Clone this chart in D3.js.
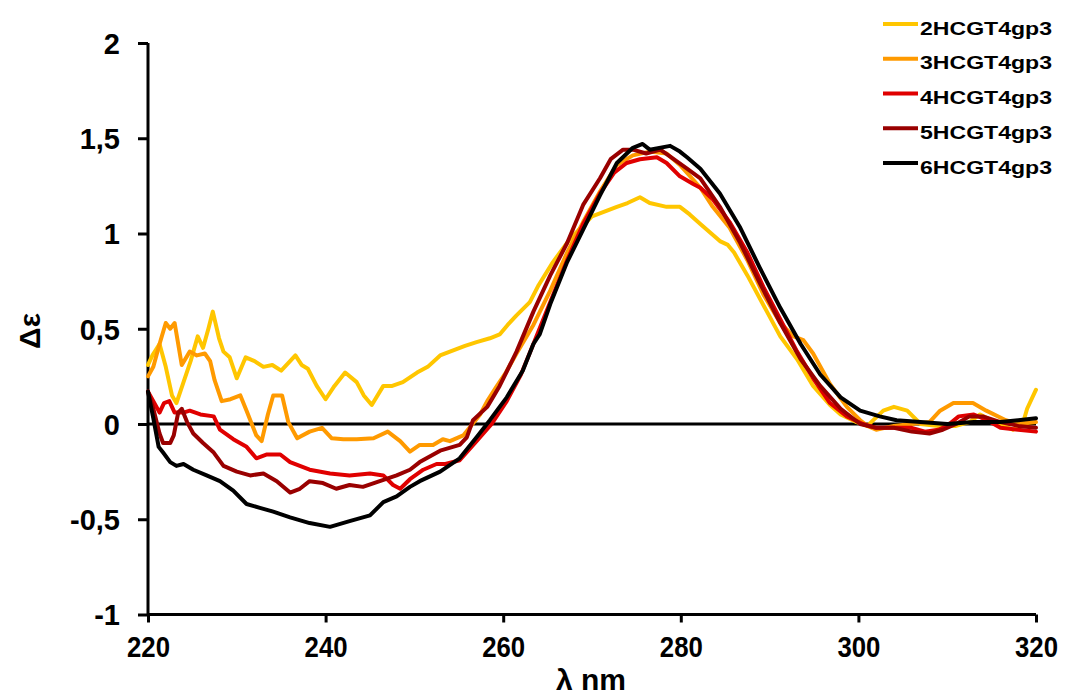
<!DOCTYPE html>
<html><head><meta charset="utf-8">
<script src="https://cdn.jsdelivr.net/npm/d3@7"></script>
<style>body{margin:0;background:#fff}svg{display:block}text{font-family:"Liberation Sans",Arial,sans-serif;font-weight:bold;fill:#000}</style>
</head><body>
<svg id="c" width="1066" height="699"></svg>
<script>
const seriesNames = ["2HCGT4gp3","3HCGT4gp3","4HCGT4gp3","5HCGT4gp3","6HCGT4gp3"];
const seriesColors = ["#FFC600","#FF9A00","#E00000","#990000","#000000"];
const xTicks = [220,240,260,280,300,320];
const yTicks = [-1,-0.5,0,0.5,1,1.5,2];
const yTickLabels = ["-1","-0,5","0","0,5","1","1,5","2"];

const s2 = [[220,0.31],[220.5,0.36],[221.3,0.42],[222,0.30],[222.7,0.15],[223.2,0.11],[224,0.22],[224.8,0.33],[225.6,0.46],[226.2,0.40],[226.8,0.50],[227.3,0.59],[228,0.45],[228.5,0.38],[229.2,0.35],[230,0.24],[231,0.35],[232,0.33],[233,0.30],[234,0.31],[235,0.28],[236,0.33],[236.6,0.36],[237.3,0.31],[238,0.29],[239,0.20],[240,0.13],[241,0.20],[242.2,0.27],[243.5,0.22],[244.3,0.15],[245.2,0.10],[246.5,0.20],[247.5,0.20],[248.7,0.22],[250.3,0.27],[251.5,0.30],[252.9,0.36],[254,0.38],[255.7,0.41],[257,0.43],[258.5,0.45],[259.6,0.47],[260.5,0.52],[261.5,0.57],[263,0.64],[264,0.73],[265.6,0.85],[267.5,0.97],[270,1.09],[272.8,1.14],[274,1.16],[275.4,1.19],[276.5,1.16],[278.4,1.14],[279.9,1.14],[281,1.10],[282.2,1.05],[284.4,0.96],[285.3,0.94],[286,0.90],[287.5,0.78],[289.7,0.59],[291.2,0.46],[293.1,0.34],[294.9,0.20],[296.8,0.10],[298,0.05],[299.8,0.01],[301,-0.01],[302.8,0.07],[304,0.09],[305.5,0.07],[307,0.0],[309,-0.01],[311,-0.01],[312.5,0.01],[313.7,0.05],[315,0.02],[317.4,-0.03],[318.5,0.0],[319,0.08],[320,0.18]];
const s3 = [[220,0.25],[220.6,0.30],[221.3,0.42],[222,0.53],[222.5,0.50],[223,0.53],[223.8,0.31],[224.7,0.38],[225.5,0.36],[226.4,0.37],[227,0.33],[227.5,0.23],[228.3,0.12],[229.3,0.13],[230.4,0.15],[231.1,0.07],[232.2,-0.06],[232.8,-0.09],[233.5,0.05],[234.1,0.15],[235.1,0.15],[235.8,0.01],[236.8,-0.075],[238.2,-0.04],[239.6,-0.02],[240.7,-0.075],[242,-0.08],[243.5,-0.08],[245.4,-0.075],[247,-0.04],[248.4,-0.09],[249.5,-0.145],[250.6,-0.11],[252.1,-0.11],[253.2,-0.08],[254,-0.09],[255.5,-0.06],[257.4,0.05],[258.2,0.12],[259.3,0.20],[260.3,0.27],[261.5,0.37],[263.4,0.52],[265.3,0.70],[267.2,0.90],[269,1.06],[270.9,1.22],[272.8,1.36],[274.6,1.41],[276.5,1.43],[278.4,1.42],[279.9,1.36],[282.2,1.24],[283.6,1.14],[285.5,1.03],[287.5,0.86],[289.3,0.68],[291.2,0.53],[292.7,0.46],[293.8,0.44],[294.9,0.37],[296.8,0.21],[298.7,0.09],[300.2,0.02],[301,-0.01],[302,-0.03],[304,-0.01],[306,0.0],[308,0.01],[309.2,0.07],[310.7,0.11],[312.9,0.11],[314.4,0.07],[316.6,0.02],[318,0.0],[320,0.01]];
const s4 = [[220,0.17],[220.6,0.12],[221.3,0.06],[221.8,0.11],[222.4,0.12],[223,0.06],[224,0.06],[224.7,0.07],[225.9,0.05],[227.4,0.04],[228.1,-0.03],[229.6,-0.08],[231.1,-0.12],[232.2,-0.18],[233.4,-0.16],[234.9,-0.16],[236,-0.20],[238.2,-0.24],[240.5,-0.26],[242.7,-0.27],[245,-0.26],[246.5,-0.27],[247.6,-0.32],[248.4,-0.34],[249.5,-0.29],[251,-0.24],[252.5,-0.21],[253.5,-0.21],[255.1,-0.19],[257,-0.09],[258.7,0.0],[260.4,0.12],[262,0.26],[263.4,0.42],[265.3,0.64],[267.2,0.86],[269,1.05],[270.9,1.21],[272.5,1.32],[273.9,1.37],[275.4,1.39],[277.3,1.40],[278.4,1.37],[279.9,1.30],[281.4,1.26],[282.2,1.24],[283.6,1.18],[285.5,1.06],[287.5,0.90],[289.3,0.72],[291.2,0.55],[293.1,0.38],[294.9,0.24],[296.8,0.11],[298.7,0.04],[300.5,0.0],[302,-0.02],[304,-0.02],[306,-0.02],[307.5,-0.04],[309,-0.03],[310,-0.01],[311.3,0.04],[313,0.05],[314.5,0.02],[316,-0.02],[318,-0.03],[320,-0.04]];
const s5 = [[220,0.17],[220.6,0.08],[221.3,-0.05],[221.7,-0.10],[222.5,-0.10],[222.9,-0.06],[223.4,0.06],[223.8,0.08],[224.4,0.01],[225.1,-0.05],[226.2,-0.10],[227.4,-0.15],[228.5,-0.22],[230,-0.25],[231.5,-0.27],[233,-0.26],[234.5,-0.30],[236,-0.36],[237.1,-0.34],[238.2,-0.30],[239.7,-0.31],[241.2,-0.34],[242.7,-0.32],[244.2,-0.33],[246.1,-0.30],[248,-0.27],[249.5,-0.24],[250.6,-0.20],[252.9,-0.14],[255.1,-0.11],[255.9,-0.07],[256.6,0.02],[258.2,0.09],[259.6,0.20],[261.5,0.38],[263.4,0.59],[265.3,0.78],[267.2,0.95],[269,1.15],[270.9,1.29],[272.1,1.39],[273.5,1.44],[274.6,1.44],[276.1,1.42],[277.7,1.44],[279.2,1.39],[280.7,1.34],[282.2,1.29],[284.4,1.14],[286.7,0.95],[288.9,0.74],[291.2,0.53],[293.5,0.34],[295.7,0.20],[298,0.08],[300.2,0.0],[302,-0.02],[304,-0.02],[306,-0.04],[308,-0.05],[309.5,-0.03],[311,0.0],[312.5,0.04],[314,0.04],[316,0.01],[318,-0.01],[320,-0.02]];
const s6 = [[220,0.17],[220.6,0.03],[221.2,-0.12],[221.7,-0.15],[222.5,-0.20],[223.2,-0.22],[224,-0.21],[225.1,-0.24],[226.6,-0.27],[228.1,-0.30],[229.6,-0.35],[231.1,-0.42],[232.6,-0.44],[234.1,-0.46],[236,-0.49],[238.2,-0.52],[240.5,-0.54],[242.7,-0.51],[245,-0.48],[246.5,-0.41],[248,-0.38],[249.5,-0.33],[250.6,-0.30],[252.9,-0.25],[255.1,-0.18],[257,-0.07],[258.5,0.02],[259.6,0.09],[260.4,0.14],[262.2,0.28],[263.4,0.42],[264.1,0.47],[265.3,0.63],[267.2,0.85],[269,1.02],[270.9,1.20],[272.8,1.37],[274.6,1.45],[275.7,1.47],[276.5,1.44],[278.8,1.46],[279.9,1.43],[280.7,1.40],[282.2,1.34],[284.4,1.21],[286.7,1.03],[288.9,0.82],[291.2,0.61],[293.5,0.42],[295.7,0.26],[298,0.14],[300.2,0.07],[302.4,0.04],[304.3,0.02],[307,0.01],[310,0.0],[313,0.01],[316,0.01],[318,0.02],[320,0.03]];
const allSeries = [s2,s3,s4,s5,s6];

const svg = d3.select("#c");
const x = d3.scaleLinear().domain([220,320]).range([148,1036]);
const y = d3.scaleLinear().domain([-1,2]).range([614.5,43]);

// axes
const yAxis = d3.axisLeft(y).tickValues(yTicks).tickSize(10).tickFormat((d,i)=>yTickLabels[i]);
const gy = svg.append("g").attr("transform","translate(148,0)").call(yAxis);
gy.select(".domain").attr("d",`M0,${y(2)}V${y(-1)}`).attr("stroke","#000").attr("stroke-width",3);
gy.selectAll(".tick line").attr("stroke","#000").attr("stroke-width",3);
gy.selectAll(".tick text").attr("x",-28).attr("dy","0.36em").style("font-size","29px").style("font-family","'Liberation Sans',Arial,sans-serif").style("font-weight","bold");

const xAxis = d3.axisBottom(x).tickValues(xTicks).tickSize(8).tickFormat(d3.format("d"));
const gx = svg.append("g").attr("transform",`translate(0,${y(-1)})`).call(xAxis);
gx.select(".domain").attr("d",`M${x(220)},0H${x(320)}`).attr("stroke","#000").attr("stroke-width",3);
gx.selectAll(".tick line").attr("stroke","#000").attr("stroke-width",3);
gx.selectAll(".tick text").attr("y",42).attr("dy",0).style("font-size","29px").style("font-family","'Liberation Sans',Arial,sans-serif").style("font-weight","bold").attr("textLength",43).attr("lengthAdjust","spacingAndGlyphs");
svg.selectAll("g text").attr("fill","#000");

// zero line
svg.append("line").attr("x1",x(220)).attr("x2",x(320)).attr("y1",y(0)).attr("y2",y(0)).attr("stroke","#000").attr("stroke-width",3);

// series
const line = d3.line().x(d=>x(d[0])).y(d=>y(d[1]));
allSeries.forEach((s,i)=>{
  svg.append("path").datum(s).attr("d",line).attr("fill","none").attr("stroke",seriesColors[i]).attr("stroke-width",4).attr("stroke-linejoin","round").attr("stroke-linecap","round");
});

// axis titles
svg.append("text").attr("x",591).attr("y",690).attr("text-anchor","middle").style("font-size","30px").text("λ nm");
svg.append("text").attr("transform","translate(40,331) rotate(-90)").attr("text-anchor","middle").style("font-size","30px").text("Δε");

// legend
const lg = svg.append("g");
seriesNames.forEach((n,i)=>{
  const yy = 24 + i*34.75;
  lg.append("line").attr("x1",883).attr("x2",918).attr("y1",yy).attr("y2",yy).attr("stroke",seriesColors[i]).attr("stroke-width",4);
  lg.append("text").attr("x",920).attr("y",yy+10.5).style("font-size","18px").attr("textLength",132).attr("lengthAdjust","spacingAndGlyphs").text(n);
});
</script>
</body></html>
